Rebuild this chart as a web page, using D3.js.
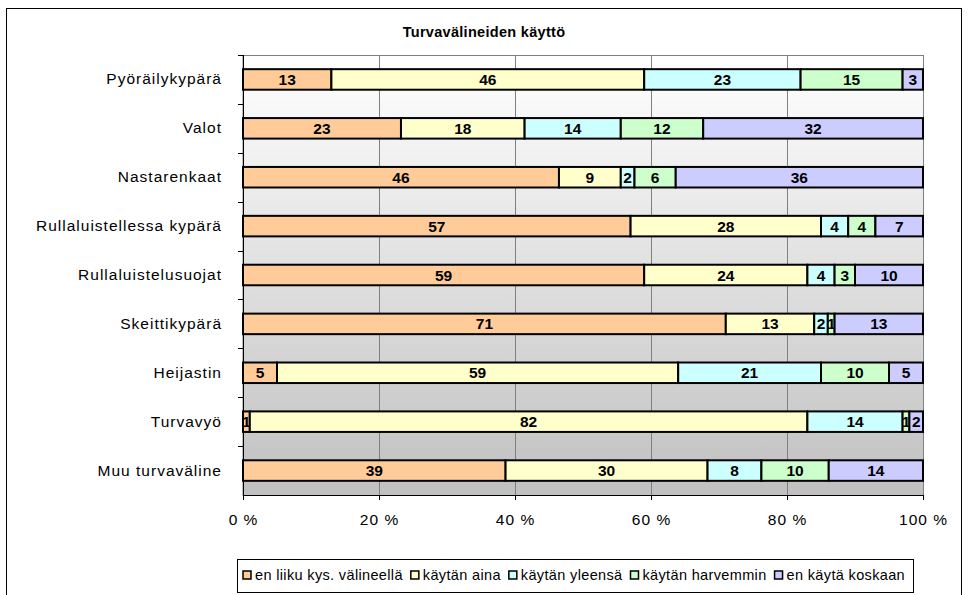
<!DOCTYPE html>
<html>
<head>
<meta charset="utf-8">
<script src="https://cdn.jsdelivr.net/npm/d3@7"></script>
<style>
  body { margin: 0; background: #fff; }
  svg text { font-family: "Liberation Sans", Arial, sans-serif; }
</style>
</head>
<body>
<svg id="chart" width="969" height="595"></svg>
<script>
// data
var categories = ["Pyöräilykypärä", "Valot", "Nastarenkaat", "Rullaluistellessa kypärä",
    "Rullaluistelusuojat", "Skeittikypärä", "Heijastin", "Turvavyö", "Muu turvaväline"];
var seriesNames = ["en liiku kys. välineellä", "käytän aina", "käytän yleensä",
    "käytän harvemmin", "en käytä koskaan"];
var enLiiku   = [13, 23, 46, 57, 59, 71, 5, 1, 39];
var aina      = [46, 18, 9, 28, 24, 13, 59, 82, 30];
var yleensa   = [23, 14, 2, 4, 4, 2, 21, 14, 8];
var harvemmin = [15, 12, 6, 4, 3, 1, 10, 1, 10];
var koskaan   = [3, 32, 36, 7, 10, 13, 5, 2, 14];
var tickLabels = ["0 %", "20 %", "40 %", "60 %", "80 %", "100 %"];

var colors = ["#ffcc99", "#ffffcc", "#ccffff", "#ccffcc", "#ccccff"];

var svg = d3.select("#chart");
var plotLeft = 243, plotRight = 923, plotTop = 55, plotBottom = 495;

// outer frame
svg.append("rect")
    .attr("x", 6.5).attr("y", 8.5).attr("width", 955).attr("height", 600)
    .attr("fill", "#fff").attr("stroke", "#000").attr("stroke-width", 1);

svg.append("text")
    .attr("x", 484).attr("y", 37)
    .attr("text-anchor", "middle")
    .attr("font-size", "14.5px").attr("font-weight", "bold").attr("letter-spacing", "0.3px")
    .text("Turvavälineiden käyttö");

var rows = categories.map(function (c, i) {
    return { cat: c, s0: enLiiku[i], s1: aina[i], s2: yleensa[i], s3: harvemmin[i], s4: koskaan[i] };
});
var keys = ["s0", "s1", "s2", "s3", "s4"];
var stack = d3.stack().keys(keys).offset(d3.stackOffsetExpand);
var layers = stack(rows);

var x = d3.scaleLinear().domain([0, 1]).range([plotLeft, plotRight]);
var y = d3.scaleBand().domain(categories).range([plotTop, plotBottom]).paddingInner(0.58).paddingOuter(0.29);
var band = d3.scaleBand().domain(categories).range([plotTop, plotBottom]);

// plot background gradient
var defs = svg.append("defs");
var grad = defs.append("linearGradient").attr("id", "bg")
    .attr("x1", 0).attr("y1", 0).attr("x2", 0).attr("y2", 1);
grad.append("stop").attr("offset", "0%").attr("stop-color", "#ffffff");
grad.append("stop").attr("offset", "100%").attr("stop-color", "#c0c0c0");

svg.append("rect")
    .attr("x", plotLeft).attr("y", plotTop + 0.5).attr("width", plotRight - plotLeft + 0.5).attr("height", plotBottom - plotTop)
    .attr("fill", "url(#bg)").attr("stroke", "#808080").attr("stroke-width", 1);

// vertical grid
svg.append("g").selectAll("line")
    .data([0.2, 0.4, 0.6, 0.8])
    .enter().append("line")
    .attr("x1", function (d) { return Math.round(x(d)) + 0.5; })
    .attr("x2", function (d) { return Math.round(x(d)) + 0.5; })
    .attr("y1", plotTop).attr("y2", plotBottom)
    .attr("stroke", "#808080");

// bars
var g = svg.append("g").selectAll("g")
    .data(layers)
    .enter().append("g")
    .attr("fill", function (d, i) { return colors[i]; });

g.selectAll("rect")
    .data(function (d) { return d; })
    .enter().append("rect")
    .attr("x", function (d) { return x(d[0]); })
    .attr("width", function (d) { return x(d[1]) - x(d[0]); })
    .attr("y", function (d) { return y(d.data.cat); })
    .attr("height", y.bandwidth())
    .attr("stroke", "#000").attr("stroke-width", 2);

g.selectAll("text")
    .data(function (d) { var k = d.key; return d.map(function (p) { return { p: p, key: k }; }); })
    .enter().append("text")
    .attr("x", function (d) { return (x(d.p[0]) + x(d.p[1])) / 2; })
    .attr("y", function (d) { return y(d.p.data.cat) + y.bandwidth() / 2 + 5.5; })
    .attr("text-anchor", "middle")
    .attr("font-size", "15.5px").attr("font-weight", "bold")
    .attr("fill", "#000")
    .text(function (d) { return d.p.data[d.key]; });

// axes
var xAxis = d3.axisBottom(x).tickValues([0, 0.2, 0.4, 0.6, 0.8, 1])
    .tickFormat(function (d, i) { return tickLabels[i]; })
    .tickSize(5).tickPadding(14);
var xg = svg.append("g").attr("transform", "translate(0," + plotBottom + ")").call(xAxis);
xg.select(".domain").attr("stroke", "#000");
xg.selectAll(".tick line").attr("stroke", "#000");
xg.selectAll("text").attr("font-size", "15.5px").attr("letter-spacing", "1px")
    .attr("font-family", "Liberation Sans, Arial, sans-serif");

var yAxis = d3.axisLeft(y).tickSize(0).tickPadding(21);
var yg = svg.append("g").attr("transform", "translate(" + plotLeft + ",0)").call(yAxis);
yg.select(".domain").remove();
yg.selectAll("text").attr("font-size", "15.5px").attr("letter-spacing", "1px")
    .attr("font-family", "Liberation Sans, Arial, sans-serif");

svg.append("line")
    .attr("x1", plotLeft + 0.5).attr("x2", plotLeft + 0.5).attr("y1", plotTop).attr("y2", plotBottom)
    .attr("stroke", "#000");
svg.append("g").selectAll("line")
    .data(categories)
    .enter().append("line")
    .attr("x1", plotLeft - 5).attr("x2", plotLeft)
    .attr("y1", function (d) { return Math.round(band(d)) + 0.5; })
    .attr("y2", function (d) { return Math.round(band(d)) + 0.5; })
    .attr("stroke", "#000");

// legend
var legend = svg.append("g");
legend.append("rect")
    .attr("x", 237.5).attr("y", 559.5).attr("width", 676).attr("height", 33)
    .attr("fill", "#fff").attr("stroke", "#000");
var lx = 243;
seriesNames.forEach(function (name, i) {
    legend.append("rect")
        .attr("x", lx).attr("y", 571).attr("width", 8).attr("height", 8)
        .attr("fill", colors[i]).attr("stroke", "#000").attr("stroke-width", 1.5);
    var t = legend.append("text")
        .attr("x", lx + 12).attr("y", 580)
        .attr("font-size", "14.5px").attr("letter-spacing", "0.35px")
        .text(name);
    lx += 12 + t.node().getComputedTextLength() + 8;
});
</script>
</body>
</html>
